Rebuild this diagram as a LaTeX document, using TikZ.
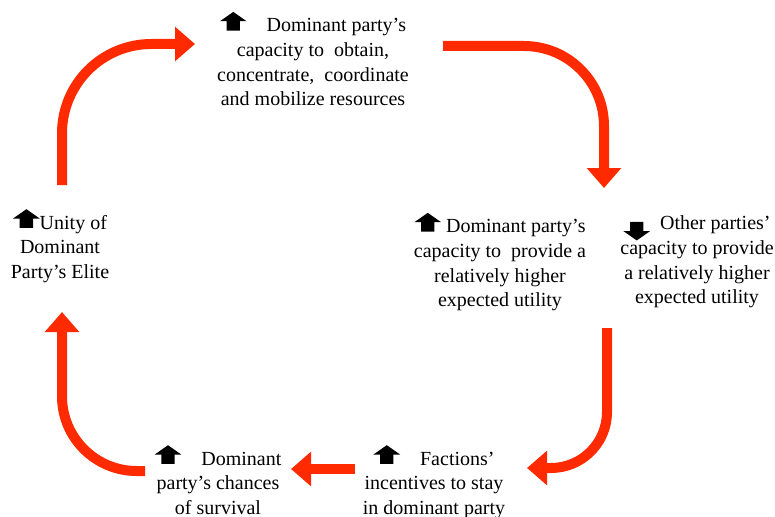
\documentclass[tikz,border=0pt]{standalone}
\usepackage{fontspec}
\setmainfont{Liberation Serif}
\usepackage{xcolor}
\usepackage{tikz}
\usetikzlibrary{arrows.meta}

\definecolor{flowred}{RGB}{255,42,0}

% small black block arrows used inside the texts
\newcommand{\upmark}{\tikz[baseline=-1pt,x=1pt,y=1pt]\fill (-5,0) -- (-5,7) -- (-10,7) -- (0,14) -- (10,7) -- (5,7) -- (5,0) -- cycle;}
\newcommand{\downmark}{\tikz[baseline=8pt,x=1pt,y=1pt]\fill (-5,14) -- (-5,7) -- (-10,7) -- (0,0) -- (10,7) -- (5,7) -- (5,14) -- cycle;}

\begin{document}
\begin{tikzpicture}[
    x=0.75pt, y=-0.75pt,
    stage/.style={align=center, inner sep=0pt, font=\fontsize{15}{18.5}\selectfont},
    flow/.style={-{Triangle[width=25pt, length=15pt]}, line width=7.5pt, draw=flowred},
]
    \useasboundingbox (0,0) rectangle (775,517);

    \node[stage] (resources) at (313,59) {\upmark\quad Dominant party’s\\capacity to\ \ obtain,\\concentrate,\ \ coordinate\\and mobilize resources};
    \node[stage] (utility) at (500,262) {\upmark\ Dominant party’s\\capacity to\ \ provide a\\relatively higher\\expected utility};
    \node[stage] (others) at (697,262) {\downmark\ \ Other parties’\\capacity to provide\\a relatively higher\\expected utility};
    \node[stage] (factions) at (434,482) {\upmark\quad Factions’\\incentives to stay\\in dominant party};
    \node[stage] (survival) at (218,480) {\upmark\quad Dominant\\party’s chances\\of survival};
    \node[stage] (unity) at (60,246) {\upmark Unity of\\Dominant\\Party’s Elite};

    \coordinate (a1) at (62,185);
    \coordinate (b1) at (195,44);
    \coordinate (a2) at (443,46);
    \coordinate (b2) at (604,188);
    \coordinate (a3) at (607,328);
    \coordinate (b3) at (527,468);
    \coordinate (a4) at (355,469);
    \coordinate (b4) at (291,469);
    \coordinate (a5) at (145,471);
    \coordinate (b5) at (62,312);

    \draw[flow, rounded corners=67pt] (a1) |- (b1);
    \draw[flow, rounded corners=60pt] (a2) -| (b2);
    \draw[flow, rounded corners=42pt] (a3) |- (b3);
    \draw[flow] (a4) -- (b4);
    \draw[flow, rounded corners=56pt] (a5) -| (b5);
\end{tikzpicture}
\end{document}
